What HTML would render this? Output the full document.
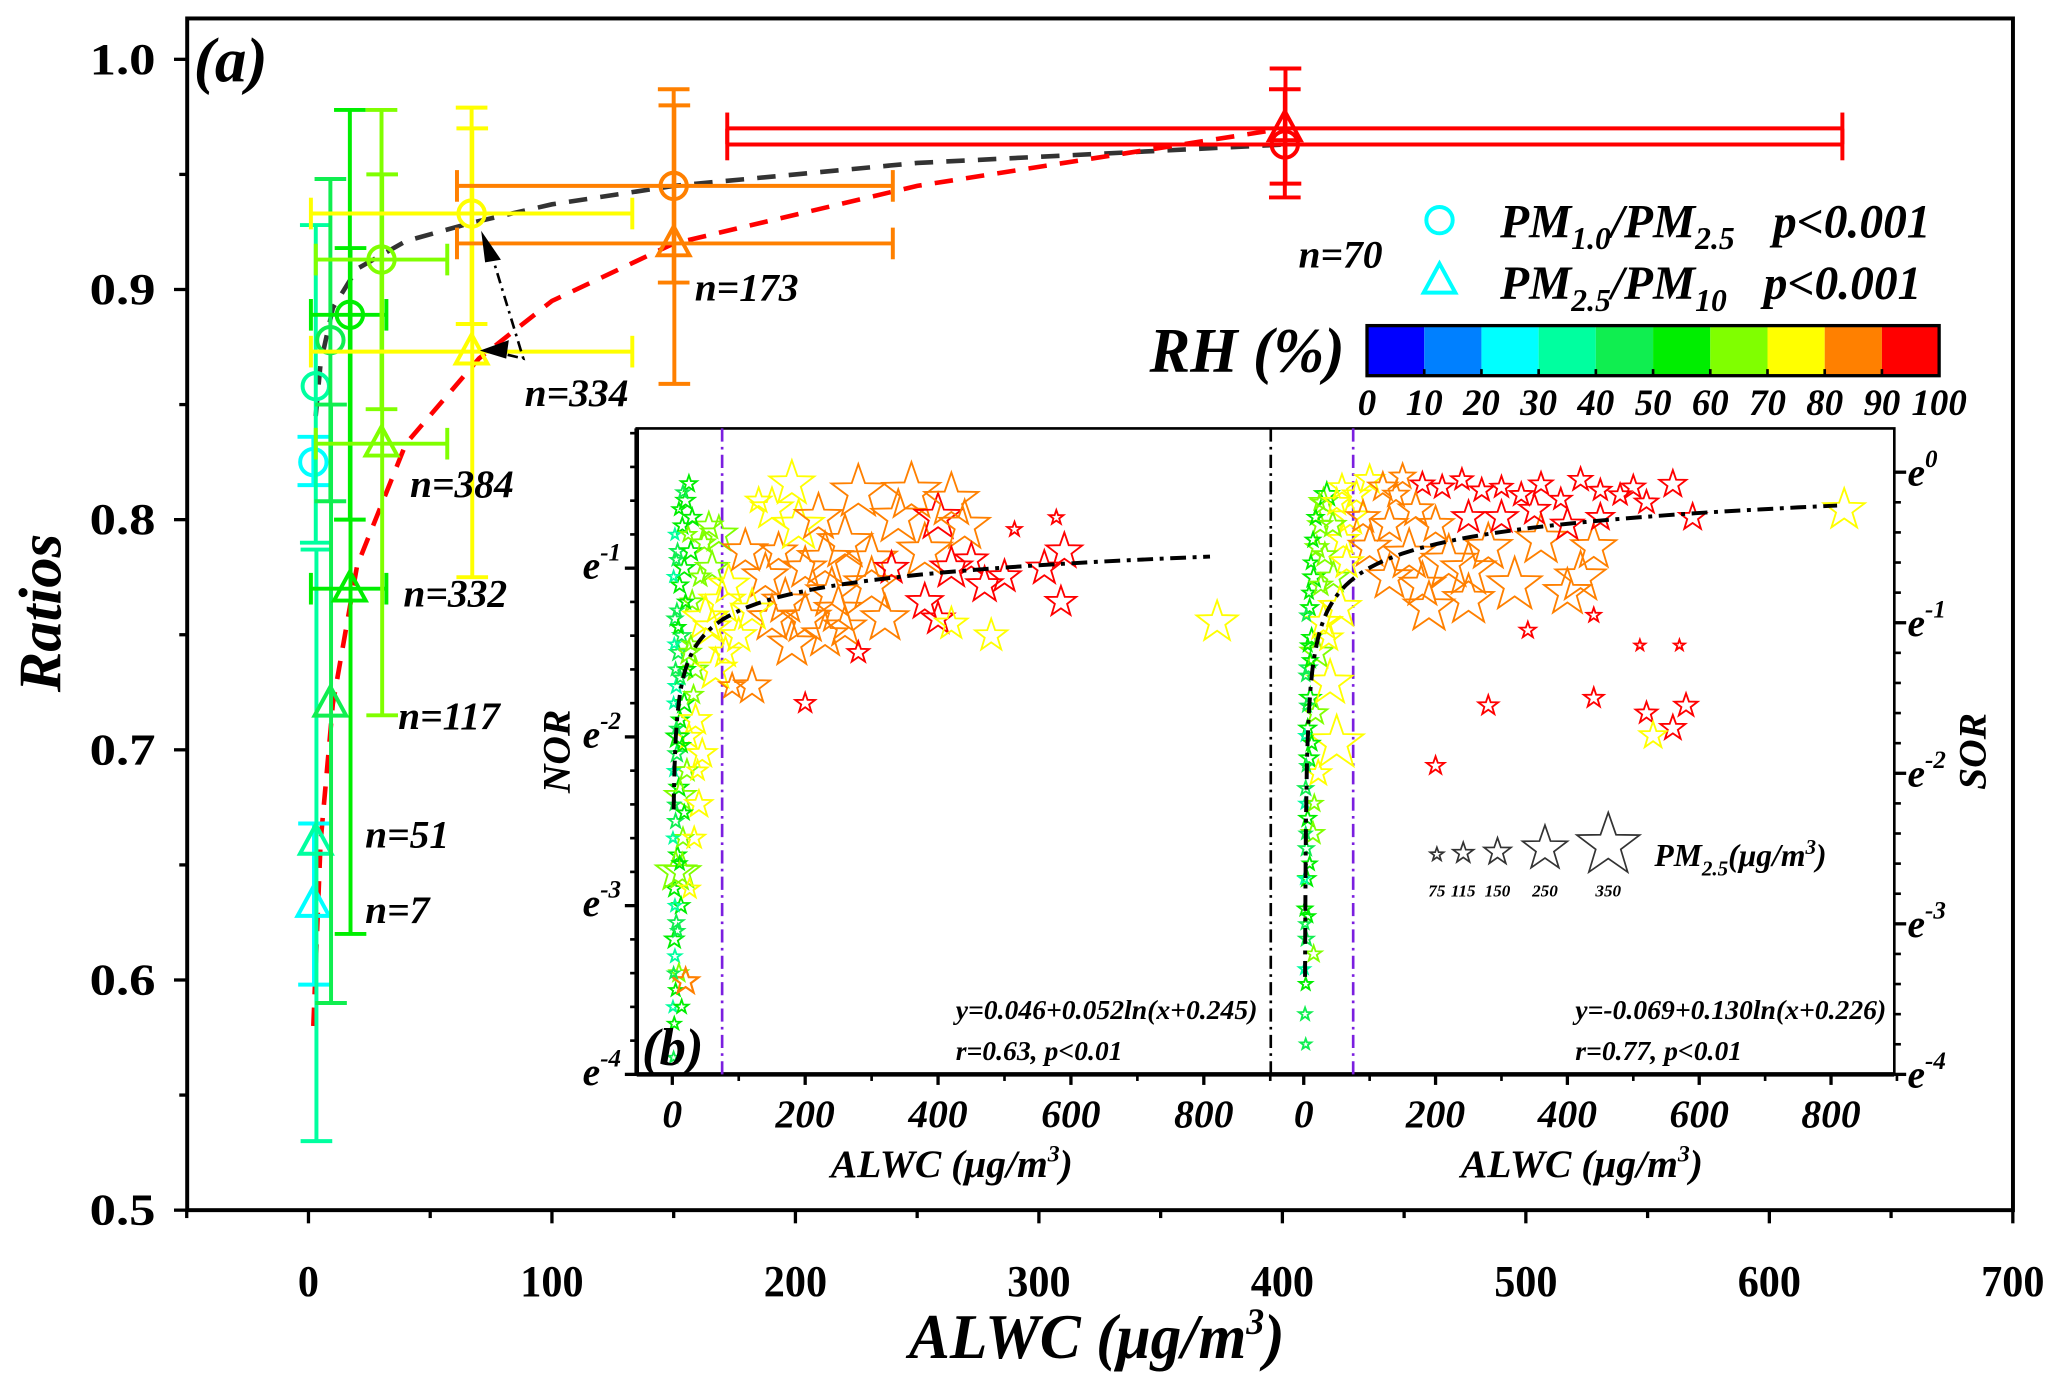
<!DOCTYPE html>
<html><head><meta charset="utf-8"><style>
html,body{margin:0;padding:0;background:#fff;}
svg{display:block;}
text{font-family:"Liberation Serif",serif;font-weight:bold;fill:#000;}
.it{font-style:italic;}
</style></head><body>
<svg id="chart" width="2067" height="1381" viewBox="0 0 1568 1047.6" preserveAspectRatio="none" xmlns="http://www.w3.org/2000/svg">
<rect x="0" y="0" width="1568" height="1048" fill="#fff"/>
<g id="main"></g>
<g id="inset"></g>
</svg>
<script>
// ===== Main chart data =====
const binX    = [2, 3, 9, 17, 30, 67, 150, 401];
const binXlo  = [null, null, null, 1, 3, 1, 61, 172];
const binXhi  = [null, null, null, 32, 57, 133, 240, 630];
const circY   = [0.825, 0.858, 0.878, 0.889, 0.913, 0.933, 0.945, 0.963];
const circLo  = [0.815, 0.790, 0.808, 0.800, 0.848, 0.885, 0.903, 0.940];
const circHi  = [0.836, 0.928, 0.948, 0.978, 0.978, 0.979, 0.987, 0.987];
const triY    = [0.633, 0.660, 0.720, 0.770, 0.833, 0.873, 0.920, 0.970];
const triLo   = [0.598, 0.530, 0.590, 0.620, 0.715, 0.775, 0.859, 0.946];
const triHi   = [0.668, 0.787, 0.850, 0.918, 0.950, 0.970, 0.980, 0.996];
const binRH   = [25, 35, 45, 55, 65, 75, 85, 95];
const nLabels = ["n=7", "n=51", "n=117", "n=332", "n=384", "n=334", "n=173", "n=70"];
const blackFitX = [3, 5, 10, 20, 40, 67, 100, 150, 250, 401];
const blackFitY = [0.845, 0.868, 0.892, 0.909, 0.921, 0.929, 0.937, 0.945, 0.955, 0.963];
const redFitX = [2, 5, 10, 20, 40, 70, 100, 150, 250, 401];
const redFitY = [0.58, 0.66, 0.72, 0.78, 0.833, 0.87, 0.895, 0.92, 0.945, 0.97];
const xTicks = [0, 100, 200, 300, 400, 500, 600, 700];
const yTicks = [0.5, 0.6, 0.7, 0.8, 0.9, 1.0];
const rhTicks = [0, 10, 20, 30, 40, 50, 60, 70, 80, 90, 100];

// ===== Inset data: [ALWC, ln(ratio), RH, PM2.5] =====
const norPts = [[2,-3.9,45,60],[3,-3.7,55,70],[5,-3.5,50,70],[4,-3.3,35,70],[6,-3.1,45,80],[3,-2.9,55,90],[8,-2.7,50,90],[5,-2.5,40,80],[10,-2.3,55,100],[7,-2.1,45,90],[12,-1.9,50,90],[6,-1.7,35,80],[9,-1.5,45,90],[4,-1.3,40,80],[11,-1.1,50,90],[8,-0.9,45,80],[15,-0.75,55,90],[20,-0.6,50,100],[25,-0.5,55,90],[14,-1.4,45,90],[18,-1.8,55,110],[22,-2.2,60,120],[16,-2.6,60,110],[13,-3.0,55,90],[10,-3.4,65,100],[20,-3.45,85,140],[15,-2.8,60,200],[12,-2.35,60,170],[28,-0.9,55,110],[30,-1.2,60,120],[35,-1.6,65,130],[25,-2.0,70,140],[40,-2.4,75,150],[45,-2.1,70,160],[35,-1.9,75,170],[50,-1.3,70,250],[60,-1.0,65,180],[55,-0.75,60,150],[70,-0.8,65,200],[75,-1.2,75,250],[80,-1.5,70,170],[65,-1.6,75,230],[90,-1.7,80,140],[100,-1.4,75,190],[120,-1.7,85,200],[130,-0.6,70,140],[150,-0.65,75,230],[160,-0.9,80,200],[180,-0.5,75,250],[190,-0.75,75,280],[170,-1.2,80,250],[200,-1.0,85,230],[220,-0.7,85,260],[240,-1.15,85,280],[260,-0.85,85,300],[280,-0.55,85,300],[300,-0.95,85,280],[320,-1.3,85,260],[340,-0.7,85,300],[360,-0.55,85,320],[380,-0.9,85,300],[400,-0.7,90,260],[420,-0.6,85,300],[440,-0.75,85,280],[230,-1.4,85,250],[260,-1.35,85,230],[200,-1.3,85,280],[180,-1.45,85,260],[300,-1.1,85,300],[380,-1.2,95,200],[420,-1.0,95,230],[450,-0.95,95,180],[470,-1.1,95,200],[500,-1.05,95,180],[560,-1.0,95,190],[590,-0.9,95,200],[585,-1.2,95,170],[400,-1.3,95,180],[330,-1.0,95,180],[280,-1.5,95,120],[200,-1.8,95,110],[420,-1.33,75,180],[480,-1.4,75,180],[820,-1.32,75,230],[515,-0.77,95,80],[578,-0.7,95,80],[20,-3.45,85,150],[5,-2.8,60,220],[3,-3.2,50,100],[8,-2.0,55,120],[18,-1.0,55,110],[25,-1.5,60,130],
 [1,-3.6,30,60],[2,-3.4,40,60],[4,-3.0,35,65],[1,-2.6,30,60],[3,-2.4,45,65],[2,-2.2,35,60],[6,-1.95,40,65],[2,-1.8,30,60],[5,-1.6,45,70],[3,-1.45,35,60],[7,-1.25,40,70],[2,-1.05,30,60],[6,-0.95,45,65],[4,-0.8,35,60],[10,-0.65,50,70],[16,-0.55,45,70],[9,-1.35,50,75],[12,-1.65,45,75],[15,-2.05,50,80],[18,-2.45,55,80],[11,-2.75,50,75],[8,-3.15,45,70],[14,-3.6,55,75],[20,-1.2,55,80],[24,-0.8,60,85],[28,-1.45,60,90],[32,-1.75,65,100],[38,-2.2,70,110],[42,-1.05,65,110],[48,-0.85,60,120],[33,-2.6,75,120],[26,-2.9,70,110],[22,-1.6,50,85],[30,-0.7,55,95],[60,-1.35,75,200],[85,-1.1,75,220],[110,-0.9,80,240],[140,-1.05,80,250],[230,-0.95,85,300],[250,-1.25,85,260],[150,-1.3,80,260],[120,-1.25,75,230]];
const sorPts = [[2,-3.6,45,70],[3,-3.4,50,70],[4,-3.1,45,80],[2,-2.9,55,80],[5,-2.7,50,90],[4,-2.5,45,80],[6,-2.3,55,90],[3,-2.1,40,80],[8,-1.9,55,100],[6,-1.7,50,90],[10,-1.5,55,110],[7,-1.3,45,90],[12,-1.1,55,100],[9,-0.9,50,90],[15,-0.7,55,110],[20,-0.5,60,120],[25,-0.35,60,130],[30,-0.2,60,150],[35,-0.15,55,130],[18,-1.6,65,130],[22,-2.0,70,140],[14,-2.4,65,120],[20,-1.2,60,180],[30,-1.0,70,200],[40,-1.4,75,250],[45,-0.7,65,170],[55,-0.9,75,230],[60,-0.45,70,170],[70,-0.3,75,200],[80,-0.15,70,150],[100,-0.05,75,160],[120,-0.1,80,160],[150,-0.03,85,140],[180,-0.08,90,130],[210,-0.1,90,130],[240,-0.05,90,120],[270,-0.12,90,130],[300,-0.1,95,120],[330,-0.15,95,130],[360,-0.08,95,130],[390,-0.18,95,120],[420,-0.05,95,130],[450,-0.12,95,120],[480,-0.15,95,120],[560,-0.08,95,150],[590,-0.3,95,150],[100,-0.5,80,230],[130,-0.7,85,250],[160,-0.55,85,280],[190,-0.9,85,280],[220,-0.6,85,300],[250,-0.85,85,280],[280,-0.5,85,260],[320,-0.75,85,300],[360,-0.45,85,280],[400,-0.8,85,260],[440,-0.5,85,250],[200,-0.35,85,200],[300,-0.3,90,180],[400,-0.35,95,180],[340,-1.05,95,90],[440,-0.95,95,80],[510,-1.15,95,60],[570,-1.15,95,60],[280,-1.55,95,110],[200,-1.95,95,100],[440,-1.5,95,110],[520,-1.6,95,120],[560,-1.7,95,140],[580,-1.55,95,130],[530,-1.75,75,150],[820,-0.25,75,230],[50,-1.8,70,300],[15,-3.2,60,90],[3,-3.8,45,60],
 [1,-3.3,35,60],[2,-3.0,40,60],[1,-2.7,30,60],[3,-2.4,40,65],[2,-2.2,35,60],[4,-1.95,45,65],[2,-1.75,35,60],[5,-1.55,45,70],[3,-1.35,40,65],[6,-1.15,50,70],[4,-0.95,40,65],[8,-0.8,50,70],[11,-0.6,55,75],[14,-0.45,55,80],[18,-0.3,55,85],[24,-0.2,60,90],[10,-1.25,50,80],[12,-1.8,55,85],[16,-2.2,60,90],[9,-2.6,55,75],[7,-2.95,50,70],[26,-0.75,60,120],[32,-0.55,65,130],[38,-1.1,70,150],[44,-0.35,65,140],[50,-0.2,70,150],[58,-0.1,70,140],[65,-0.6,75,180],[90,-0.3,80,180],[130,-0.35,85,200],[170,-0.25,85,190],[250,-0.3,90,180],[350,-0.25,95,170],[450,-0.3,95,150],[500,-0.1,95,130],[250,-0.65,85,300],[180,-0.75,85,250],[420,-0.7,85,280],[140,-0.15,85,140],[520,-0.2,95,130]];
const insetXTicks = [0, 200, 400, 600, 800];
const lnTicks = [-4, -3, -2, -1, 0];
const pmLegend = [75, 115, 150, 250, 350];

const NS = "http://www.w3.org/2000/svg";
const rhColors = ["#0000ff","#0080ff","#00ffff","#00ff9f","#10ee50","#00ee00","#80ff00","#ffff00","#ff8000","#ff0000"];
function rhColor(rh){ return rhColors[Math.min(9, Math.floor(rh/10))]; }
function el(parent, tag, attrs, text){
  const e = document.createElementNS(NS, tag);
  for (const k in attrs) e.setAttribute(k, attrs[k]);
  if (text !== undefined) e.textContent = text;
  parent.appendChild(e); return e;
}
const main = document.getElementById("main");
const inset = document.getElementById("inset");

const X = v => 234 + v * 1.847;
const Y = v => 45 + (1.0 - v) * 1746;

let fr = el(main, "rect", {x:142, y:14, width:1385, height:904, fill:"none", stroke:"#000", "stroke-width":3});



for (let v = -50; v <= 700; v += 50) {
  const major = v % 100 === 0;
  const t = el(main, "line", {x1:X(v), x2:X(v), y1:918, y2:918 + (major ? 10 : 6), stroke:"#000", "stroke-width":2.5});
  
  
}
xTicks.forEach(v => {
  const t = el(main, "text", {x:X(v), y:983, "text-anchor":"middle", "font-size":34, textLength: String(v).length*16, lengthAdjust:"spacingAndGlyphs"}, String(v));
  
  
});
for (let v = 0.5; v <= 1.0001; v += 0.05) {
  const major = Math.round(v*100) % 10 === 0;
  const t = el(main, "line", {x1:142 - (major ? 10 : 6), x2:142, y1:Y(v), y2:Y(v), stroke:"#000", "stroke-width":2.5});
  
  
}
yTicks.forEach(v => {
  const t = el(main, "text", {x:118, y:Y(v)+11, "text-anchor":"end", "font-size":34, textLength:50, lengthAdjust:"spacingAndGlyphs"}, v.toFixed(1));
  
  
});
let yt = el(main, "text", {x:0, y:0, "class":"it", "font-size":46, "text-anchor":"middle", transform:"translate(46,465) rotate(-90)"}, "Ratios");


let xt = el(main, "text", {x:832, y:1030, "class":"it", "font-size":48, "text-anchor":"middle", textLength:285, lengthAdjust:"spacingAndGlyphs"});


xt.innerHTML = 'ALWC (μg/m<tspan dy="-18" font-size="28">3</tspan><tspan dy="18">)</tspan>';
let pa = el(main, "text", {x:147, y:62, "class":"it", "font-size":48}, "(a)");



function fitPath(xs, ys){ return xs.map((x,i)=>(i?"L":"M")+X(x).toFixed(1)+","+Y(ys[i]).toFixed(1)).join(""); }
let bf = el(main, "path", {d:fitPath(blackFitX, blackFitY), fill:"none", stroke:"#333", "stroke-width":3.5, "stroke-dasharray":"14,10"});


let rf = el(main, "path", {d:fitPath(redFitX, redFitY), fill:"none", stroke:"#ff0000", "stroke-width":3.5, "stroke-dasharray":"14,10"});



function vbar(g, x, lo, hi, c){
  el(g, "line", {x1:x, x2:x, y1:Y(lo), y2:Y(hi), stroke:c, "stroke-width":3});
  el(g, "line", {x1:x-12, x2:x+12, y1:Y(lo), y2:Y(lo), stroke:c, "stroke-width":3});
  el(g, "line", {x1:x-12, x2:x+12, y1:Y(hi), y2:Y(hi), stroke:c, "stroke-width":3});
}
function hbar(g, lo, hi, y, c){
  el(g, "line", {x1:X(lo), x2:X(hi), y1:y, y2:y, stroke:c, "stroke-width":3});
  el(g, "line", {x1:X(lo), x2:X(lo), y1:y-12, y2:y+12, stroke:c, "stroke-width":3});
  el(g, "line", {x1:X(hi), x2:X(hi), y1:y-12, y2:y+12, stroke:c, "stroke-width":3});
}
binX.forEach((bx, i) => {
  const c = rhColor(binRH[i]);
  const g = el(main, "g", {});
  
  
  const px = X(bx);
  vbar(g, px, circLo[i], circHi[i], c);
  vbar(g, px + 0.5, triLo[i], triHi[i], c);
  if (binXlo[i] !== null) {
    hbar(g, binXlo[i], binXhi[i], Y(circY[i]), c);
    hbar(g, binXlo[i], binXhi[i], Y(triY[i]), c);
  }
  const ci = el(g, "circle", {cx:px, cy:Y(circY[i]), r:10, fill:"none", stroke:c, "stroke-width":3});
  
  
  const ty = Y(triY[i]);
  const tr = el(g, "path", {d:`M${px},${ty-13}L${px+12},${ty+9}L${px-12},${ty+9}Z`, fill:"none", stroke:c, "stroke-width":3});
  
  
});
const nPos = [[277,700],[277,643],[302,553],[306,460],[311,377],[398,308],[527,228],[985,203]];
nLabels.forEach((s, i) => {
  const t = el(main, "text", {x:nPos[i][0], y:nPos[i][1], "class":"it", "font-size":30}, s);
  
  
});
let ar = el(main, "g", {});


el(ar, "path", {d:"M372,190L397,272L372,266", fill:"none", stroke:"#000", "stroke-width":2, "stroke-dasharray":"8,4,2,4"});
el(ar, "path", {d:"M365,175L380,197L368,199Z", fill:"#000"});
el(ar, "path", {d:"M364,266L386,258L384,272Z", fill:"#000"});

let lg = el(main, "g", {});


el(lg, "circle", {cx:1092, cy:167, r:10, fill:"none", stroke:"#00ffff", "stroke-width":3});
el(lg, "path", {d:"M1092,200L1104,222L1080,222Z", fill:"none", stroke:"#00ffff", "stroke-width":3});
let l1 = el(lg, "text", {x:1138, y:180, "class":"it", "font-size":36});
l1.innerHTML = 'PM<tspan font-size="24" dy="9">1.0</tspan><tspan dy="-9">/PM</tspan><tspan font-size="24" dy="9">2.5</tspan>';
el(lg, "text", {x:1345, y:180, "class":"it", "font-size":36}, "p<0.001");
let l2 = el(lg, "text", {x:1138, y:227, "class":"it", "font-size":36});
l2.innerHTML = 'PM<tspan font-size="24" dy="9">2.5</tspan><tspan dy="-9">/PM</tspan><tspan font-size="24" dy="9">10</tspan>';
el(lg, "text", {x:1338, y:227, "class":"it", "font-size":36}, "p<0.001");

let cb = el(main, "g", {});


rhColors.forEach((c, i) => el(cb, "rect", {x:1037 + i*43.4, y:247, width:43.4, height:38, fill:c}));
el(cb, "rect", {x:1037, y:247, width:434, height:38, fill:"none", stroke:"#000", "stroke-width":2.5});
rhTicks.forEach((v, i) => {
  el(cb, "line", {x1:1037+i*43.4, x2:1037+i*43.4, y1:280, y2:285, stroke:"#000", "stroke-width":2});
  el(cb, "text", {x:1037+i*43.4, y:315, "class":"it", "font-size":28, "text-anchor":"middle"}, String(v));
});
let rht = el(main, "text", {x:872, y:282, "class":"it", "font-size":48, textLength:148, lengthAdjust:"spacingAndGlyphs"}, "RH (%)");



// ===== Inset =====
const L = 483, R = 1437, T = 325, B = 815;
const XL = v => 510 + v * 0.504;
const XR = v => 989 + v * 0.5;
const YL = v => 815 - (v + 4) * 128;
const YR = v => 815 - (v + 4) * 114.2;
let ibg = el(inset, "rect", {x:L, y:T, width:R-L, height:B-T, fill:"#fff", stroke:"#000", "stroke-width":2});


el(inset, "line", {x1:L, x2:R, y1:B, y2:B, stroke:"#000", "stroke-width":3.5});
el(inset, "line", {x1:L, x2:L, y1:T, y2:B, stroke:"#000", "stroke-width":3.5});
el(inset, "line", {x1:964, x2:964, y1:T, y2:B, stroke:"#000", "stroke-width":2, "stroke-dasharray":"10,4,2,4"});
el(inset, "line", {x1:XL(75), x2:XL(75), y1:T, y2:B, stroke:"#7b1fe0", "stroke-width":2, "stroke-dasharray":"10,4,2,4"});
el(inset, "line", {x1:XR(75), x2:XR(75), y1:T, y2:B, stroke:"#7b1fe0", "stroke-width":2, "stroke-dasharray":"10,4,2,4"});

function starPath(cx, cy, r){
  let d = "";
  for (let k = 0; k < 10; k++){
    const a = -Math.PI/2 + k*Math.PI/5;
    const rr = k % 2 ? r*0.4 : r;
    d += (k ? "L" : "M") + (cx + rr*Math.cos(a)).toFixed(1) + "," + (cy + rr*Math.sin(a)).toFixed(1);
  }
  return d + "Z";
}
function drawStars(pts, xf, yf, name){
  const g = el(inset, "g", {});
  
  
  pts.forEach(p => {
    const s = el(g, "path", {d:starPath(xf(p[0]), yf(p[1]), p[3]/14), fill:"none", stroke:rhColor(p[2]), "stroke-width":1.4});
    
    
  });
}
drawStars(norPts, XL, YL, "nor-scatter");
drawStars(sorPts, XR, YR, "sor-scatter");

function fitLine(xf, yf, a, b, c){
  let d = "";
  for (let x = 2; x <= 820; x *= 1.08){
    const v = Math.log(a + b*Math.log(x + c));
    d += (d ? "L" : "M") + xf(x).toFixed(1) + "," + yf(v).toFixed(1);
  }
  return d;
}
let f1 = el(inset, "path", {d:fitLine(XL, YL, 0.046, 0.052, 0.245), fill:"none", stroke:"#000", "stroke-width":3, "stroke-dasharray":"12,5,3,5"});


let f2 = el(inset, "path", {d:fitLine(XR, YR, -0.069, 0.130, 0.226), fill:"none", stroke:"#000", "stroke-width":3, "stroke-dasharray":"12,5,3,5"});



lnTicks.forEach(v => {
  if (YL(v) >= T - 1) {
    el(inset, "line", {x1:L-9, x2:L, y1:YL(v), y2:YL(v), stroke:"#000", "stroke-width":2.5});
    const t = el(inset, "text", {x:442, y:YL(v)+8, "class":"it", "font-size":30});
    
    
    t.innerHTML = 'e<tspan font-size="19" dy="-14">' + v + '</tspan>';
  }
  el(inset, "line", {x1:R, x2:R+9, y1:YR(v), y2:YR(v), stroke:"#000", "stroke-width":2.5});
  const t2 = el(inset, "text", {x:1447, y:YR(v)+10, "class":"it", "font-size":30});
  
  
  t2.innerHTML = 'e<tspan font-size="19" dy="-14">' + v + '</tspan>';
});
for (let v = -4; v <= 0.01; v += 0.2){
  if (YL(v) >= T) el(inset, "line", {x1:L-5, x2:L, y1:YL(v), y2:YL(v), stroke:"#000", "stroke-width":2});
  el(inset, "line", {x1:R, x2:R+5, y1:YR(v), y2:YR(v), stroke:"#000", "stroke-width":2});
}
insetXTicks.forEach(v => {
  [[XL, "nor"], [XR, "sor"]].forEach(([f, n]) => {
    el(inset, "line", {x1:f(v), x2:f(v), y1:B, y2:B+8, stroke:"#000", "stroke-width":2.5});
    el(inset, "line", {x1:f(v+100), x2:f(v+100), y1:B, y2:B+5, stroke:"#000", "stroke-width":2});
    const t = el(inset, "text", {x:f(v), y:855, "class":"it", "font-size":30, "text-anchor":"middle"}, String(v));
    
    
  });
});
[[722, "nor"], [1200, "sor"]].forEach(([cx, n]) => {
  const t = el(inset, "text", {x:cx, y:893, "class":"it", "font-size":30, "text-anchor":"middle", "font-weight":"normal"});
  
  
  t.innerHTML = 'ALWC (μg/m<tspan dy="-12" font-size="18">3</tspan><tspan dy="12">)</tspan>';
});
let nor = el(inset, "text", {x:0, y:0, "class":"it", "font-size":30, "text-anchor":"middle", transform:"translate(432,570) rotate(-90)"}, "NOR");


let sor = el(inset, "text", {x:0, y:0, "class":"it", "font-size":30, "text-anchor":"middle", transform:"translate(1506,570) rotate(-90)"}, "SOR");


let pb = el(inset, "text", {x:487, y:808, "class":"it", "font-size":40}, "(b)");


[["y=0.046+0.052ln(x+0.245)", 725, 773, "nor-equation"], ["r=0.63, p<0.01", 725, 804, "nor-stats"],
 ["y=-0.069+0.130ln(x+0.226)", 1195, 773, "sor-equation"], ["r=0.77, p<0.01", 1195, 804, "sor-stats"]].forEach(a => {
  const t = el(inset, "text", {x:a[1], y:a[2], "class":"it", "font-size":21}, a[0]);
  
  
});
const pmLegX = [1090, 1110, 1136, 1172, 1220];
let pl = el(inset, "g", {});


pmLegend.forEach((v, i) => {
  el(pl, "path", {d:starPath(pmLegX[i], 650 - v/40, v/14), fill:"none", stroke:"#333", "stroke-width":1.3});
  el(pl, "text", {x:pmLegX[i], y:680, "class":"it", "font-size":13, "text-anchor":"middle", "font-weight":"normal"}, String(v));
});
let plt = el(pl, "text", {x:1255, y:657, "class":"it", "font-size":24, "font-weight":"normal"});
plt.innerHTML = 'PM<tspan font-size="16" dy="7">2.5</tspan><tspan dy="-7">(μg/m</tspan><tspan font-size="16" dy="-9">3</tspan><tspan dy="9">)</tspan>';
</script>
</body></html>
